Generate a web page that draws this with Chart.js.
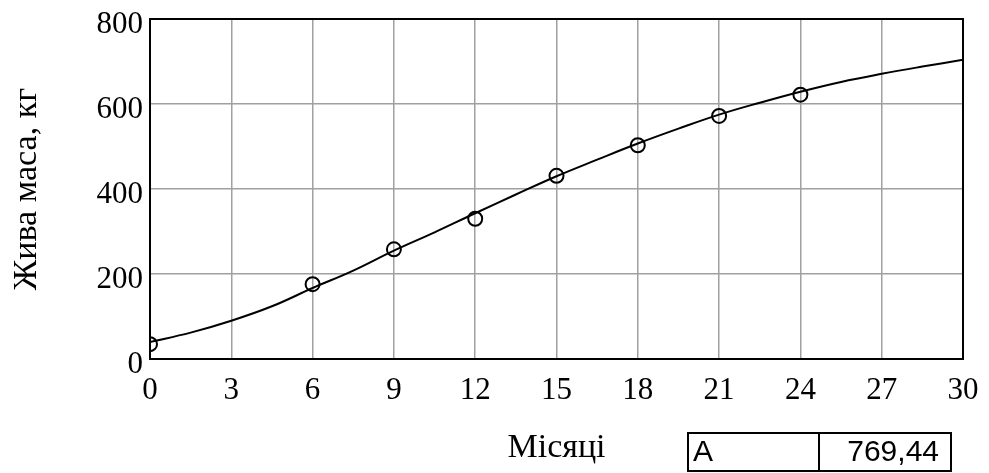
<!DOCTYPE html>
<html>
<head>
<meta charset="utf-8">
<script src="https://cdn.jsdelivr.net/npm/chart.js@4/dist/chart.umd.min.js"></script>
<style>
    html, body { margin: 0; padding: 0; background: #fff; }
    #wrap { width: 989px; height: 473px; position: relative; }
</style>
</head>
<body>
<div id="wrap"><canvas id="growthChart"></canvas></div>
<script>
// observed live weight by month
const monthsObserved = [0, 6, 9, 12, 15, 18, 21, 24];
const massObserved = [35, 176, 258, 330, 431, 503, 572, 622];

// fitted growth curve, every 1.5 months
const curveMonths = [0, 1.5, 3, 4.5, 6, 7.5, 9, 10.5, 12, 13.5, 15, 16.5, 18, 19.5, 21, 22.5, 24, 25.5, 27, 28.5, 30];
const curveMass = [40, 62, 90, 124, 167, 208, 255, 298, 343, 387, 430, 469, 507, 542, 575, 603, 629, 652, 671, 688, 704];

const xTicks = [0, 3, 6, 9, 12, 15, 18, 21, 24, 27, 30];
const yTicks = [0, 200, 400, 600, 800];

const paramName = 'A';
const paramValue = '769,44';

const serif = '"Liberation Serif", "Times New Roman", serif';
const sans = '"Liberation Sans", Arial, sans-serif';

document.addEventListener('DOMContentLoaded', function() {
    initializeChart();
});

function toPoints(xs, ys) {
    return xs.map((x, i) => ({ x: x, y: ys[i] }));
}

// black frame round the plot + the small parameter table under it
const framePlugin = {
    id: 'frameAndTable',
    afterDraw(chart) {
        const ctx = chart.ctx;
        const area = chart.chartArea;
        ctx.save();
        ctx.strokeStyle = '#000';
        ctx.lineWidth = 2;
        ctx.strokeRect(area.left, area.top, area.right - area.left, area.bottom - area.top);

        const right = area.right - 12;
        const left = right - 263;
        const top = area.bottom + 74;
        const height = 38;
        const split = left + 131;
        ctx.strokeRect(left, top, right - left, height);
        ctx.beginPath();
        ctx.moveTo(split, top);
        ctx.lineTo(split, top + height);
        ctx.stroke();

        ctx.fillStyle = '#000';
        ctx.font = '30px ' + sans;
        ctx.textBaseline = 'middle';
        ctx.textAlign = 'left';
        ctx.fillText(paramName, left + 5, top + height / 2 + 1);
        ctx.textAlign = 'right';
        ctx.fillText(paramValue, right - 12, top + height / 2 + 1);
        ctx.restore();
    }
};

function initializeChart() {
    const ctx = document.getElementById('growthChart').getContext('2d');

    window.growthChart = new Chart(ctx, {
        type: 'scatter',
        data: {
            datasets: [{
                label: 'curve',
                data: toPoints(curveMonths, curveMass),
                showLine: true,
                borderColor: '#000',
                borderWidth: 2,
                pointRadius: 0,
                tension: 0.4
            }, {
                label: 'observed',
                data: toPoints(monthsObserved, massObserved),
                showLine: false,
                borderColor: '#000',
                backgroundColor: 'rgba(0,0,0,0)',
                pointRadius: 7,
                pointBorderWidth: 2
            }]
        },
        options: {
            responsive: true,
            maintainAspectRatio: false,
            animation: false,
            layout: {
                padding: { top: 19, right: 26, left: 0, bottom: 0 }
            },
            plugins: {
                legend: { display: false },
                tooltip: { enabled: false }
            },
            scales: {
                x: {
                    type: 'linear',
                    min: 0,
                    max: 30,
                    afterBuildTicks: scale => {
                        scale.ticks = xTicks.map(v => ({ value: v }));
                    },
                    afterFit: scale => {
                        scale.height = 114;
                        scale.paddingLeft = 0;
                        scale.paddingRight = 0;
                    },
                    ticks: {
                        color: '#000',
                        padding: 13,
                        font: { family: serif, size: 31 }
                    },
                    grid: { color: '#a0a0a0', lineWidth: 1.5, drawTicks: false },
                    border: { color: '#000', width: 2 },
                    title: {
                        display: true,
                        text: 'Місяці',
                        color: '#000',
                        font: { family: serif, size: 34 },
                        padding: { top: 0, bottom: 5 }
                    }
                },
                y: {
                    type: 'linear',
                    min: 0,
                    max: 800,
                    afterBuildTicks: scale => {
                        scale.ticks = yTicks.map(v => ({ value: v }));
                    },
                    afterFit: scale => {
                        scale.width = 150;
                        scale.paddingTop = 0;
                        scale.paddingBottom = 0;
                    },
                    ticks: {
                        color: '#000',
                        padding: 7,
                        labelOffset: 6,
                        font: { family: serif, size: 31 }
                    },
                    grid: { color: '#a0a0a0', lineWidth: 1.5, drawTicks: false },
                    border: { color: '#000', width: 2 },
                    title: {
                        display: true,
                        text: 'Жива маса, кг',
                        color: '#000',
                        font: { family: serif, size: 34 },
                        padding: { top: 7, bottom: 0 }
                    }
                }
            }
        },
        plugins: [framePlugin]
    });
}
</script>
</body>
</html>
